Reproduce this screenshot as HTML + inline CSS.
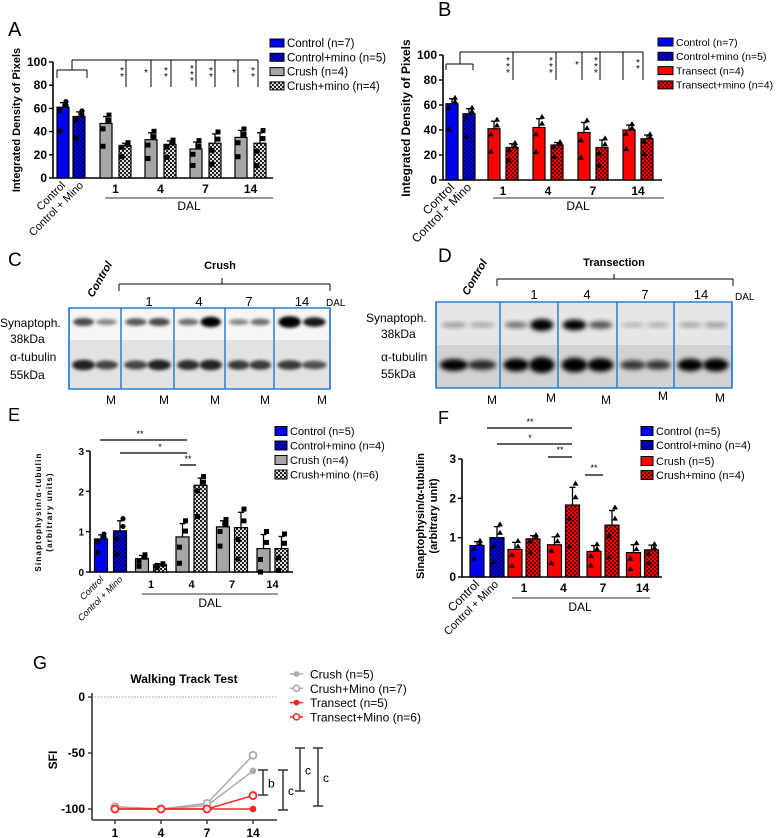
<!DOCTYPE html>
<html><head><meta charset="utf-8"><style>
html,body{margin:0;padding:0;background:#fff;}
svg{display:block;font-family:"Liberation Sans",sans-serif;}
</style></head><body>
<svg id="fig" width="777" height="838" viewBox="0 0 777 838" xmlns="http://www.w3.org/2000/svg">
<defs>
<pattern id="pBlue" width="4" height="4" patternUnits="userSpaceOnUse"><rect width="4" height="4" fill="#0000e0"/><rect width="2" height="2" fill="#00007a"/><rect x="2" y="2" width="2" height="2" fill="#00007a"/></pattern>
<pattern id="pGray" width="4" height="4" patternUnits="userSpaceOnUse"><rect width="4" height="4" fill="#ddd"/><rect width="2" height="2" fill="#222"/><rect x="2" y="2" width="2" height="2" fill="#222"/></pattern>
<pattern id="pRed" width="4" height="4" patternUnits="userSpaceOnUse"><rect width="4" height="4" fill="#f00"/><rect width="2" height="2" fill="#600"/><rect x="2" y="2" width="2" height="2" fill="#600"/></pattern>
<filter id="blur" x="-50%" y="-50%" width="200%" height="200%"><feGaussianBlur stdDeviation="1.6"/></filter>
<filter id="blur2" x="-50%" y="-50%" width="200%" height="200%"><feGaussianBlur stdDeviation="2.5"/></filter>
</defs>
<g id="root"></g>
</svg>
<script>
// ---- Panel A data ----
const daysLabels = ["1","4","7","14"];
const aCtrl = [61, 53];
const aCtrlErr = [4, 4];
const aCrush = [47, 33, 25, 35];
const aCrushErr = [6, 6, 6, 6];
const aCrushMino = [28, 29, 30, 30];
const aCrushMinoErr = [2, 3, 8, 9];
const aTicks = [0, 20, 40, 60, 80, 100];
// ---- Panel B data ----
const bCtrl = [61, 53];
const bCtrlErr = [4, 4];
const bTrans = [41, 42, 38, 40];
const bTransErr = [6, 7, 8, 4];
const bTransMino = [26, 28, 26, 33];
const bTransMinoErr = [3, 2, 6, 3];
// ---- Panel E data ----
const eCtrl = [0.82, 1.02];
const eCtrlErr = [0.1, 0.25];
const eCrush = [0.33, 0.87, 1.12, 0.58];
const eCrushErr = [0.08, 0.33, 0.15, 0.35];
const eCrushMino = [0.18, 2.15, 1.1, 0.58];
const eCrushMinoErr = [0.02, 0.18, 0.38, 0.3];
const eTicks = [0, 1, 2, 3];
// ---- Panel F data ----
const fCtrl = [0.8, 1.0];
const fCtrlErr = [0.1, 0.28];
const fCrush = [0.7, 0.82, 0.65, 0.62];
const fCrushErr = [0.18, 0.2, 0.15, 0.2];
const fCrushMino = [0.97, 1.83, 1.32, 0.69];
const fCrushMinoErr = [0.08, 0.45, 0.37, 0.12];
// ---- Panel G data ----
const gDays = ["1","4","7","14"];
const gCrush = [-98, -100, -97, -66];
const gCrushMino = [-98, -100, -95, -52];
const gTrans = [-100, -100, -100, -100];
const gTransMino = [-100, -100, -100, -88];
const gTicks = [0, -50, -100];

const NS = "http://www.w3.org/2000/svg";
const root = document.getElementById('root');
function el(tag, attrs, parent, txt){
  const e = document.createElementNS(NS, tag);
  for (const k in attrs) e.setAttribute(k, attrs[k]);
  if (txt !== undefined) e.textContent = txt;
  (parent || root).appendChild(e);
  return e;
}
function line(x1,y1,x2,y2,w,c,p){return el('line',{x1,y1,x2,y2,stroke:c||'#000','stroke-width':w||1},p);}

function barChart(cfg){
  const g = el('g',{});
  
  
  const ys = v => cfg.y0 - (v / cfg.max) * (cfg.y0 - cfg.yTop);
  line(cfg.ax, cfg.yTop, cfg.ax, cfg.y0, 1.6, '#000', g);
  line(cfg.ax, cfg.y0, cfg.xEnd, cfg.y0, 1.6, '#000', g);
  cfg.ticks.forEach(t => {
    line(cfg.ax-4, ys(t), cfg.ax, ys(t), 1.4, '#000', g);
    const tl = el('text',{x:cfg.ax-6,y:ys(t)+4,'text-anchor':'end','font-size':cfg.tickFs,'font-weight':'bold'},g,String(t));
    
    
  });
  const bars = [];
  bars.push({x:cfg.ctrlX[0], v:cfg.ctrl[0], e:cfg.ctrlErr[0], fill:'#0000f0'});
  bars.push({x:cfg.ctrlX[1], v:cfg.ctrl[1], e:cfg.ctrlErr[1], fill:'url(#pBlue)'});
  cfg.s1.forEach((v,i)=>bars.push({x:cfg.s1x0+cfg.step*i, v, e:cfg.s1Err[i], fill:cfg.s1Fill}));
  cfg.s2.forEach((v,i)=>bars.push({x:cfg.s2x0+cfg.step*i, v, e:cfg.s2Err[i], fill:cfg.s2Fill}));
  bars.forEach((b,i) => {
    line(b.x, ys(b.v), b.x, ys(b.v + b.e), 1.3, '#000', g);
    line(b.x-3, ys(b.v + b.e), b.x+3, ys(b.v + b.e), 1.3, '#000', g);
    const r = el('rect',{x:b.x-cfg.bw/2, y:ys(b.v), width:cfg.bw, height:cfg.y0-ys(b.v), fill:b.fill, stroke:'#000','stroke-width':1.2},g);
    
    
    const offs = [0.55, -0.35, 0.2, -0.6, 0.35];
    offs.slice(0, 4).forEach((o,k) => {
      const pv = Math.max(0, b.v + o * b.e * 2.2 - (k===3 ? b.v*0.25 : 0));
      const px = b.x + (k%2 ? -3 : 3);
      if (cfg.marker === 'tri') el('path',{d:`M${px},${ys(pv)-3} l3,5 h-6 z`,fill:'#000'},g);
      else if (cfg.marker === 'sq' && i>1) el('rect',{x:px-2.5,y:ys(pv)-2.5,width:5,height:5,fill:'#000'},g);
      else el('circle',{cx:px,cy:ys(pv),r:2.6,fill:'#000'},g);
    });
  });
  daysLabels.forEach((d,i) => {
    const cx = (cfg.s1x0 + cfg.s2x0)/2 + cfg.step*i;
    const t = el('text',{x:cx,y:cfg.y0+cfg.dayDy,'text-anchor':'middle','font-size':cfg.dayFs,'font-weight':'bold'},g,d);
    
    
  });
  return g;
}

barChart({name:'panel-a-chart',ax:53,y0:178,yTop:62,max:100,xEnd:273,ticks:aTicks,tickFs:12,bw:12,
  ctrlX:[63,79],ctrl:aCtrl,ctrlErr:aCtrlErr,s1:aCrush,s1Err:aCrushErr,s1x0:106,s2:aCrushMino,s2Err:aCrushMinoErr,s2x0:125,step:45,
  s1Fill:'#a6a6a6',s2Fill:'url(#pGray)',marker:'sq',dayDy:15,dayFs:12});
barChart({name:'panel-b-chart',ax:443,y0:180,yTop:55,max:100,xEnd:662,ticks:aTicks,tickFs:12,bw:12,
  ctrlX:[452,469],ctrl:bCtrl,ctrlErr:bCtrlErr,s1:bTrans,s1Err:bTransErr,s1x0:494,s2:bTransMino,s2Err:bTransMinoErr,s2x0:512,step:45,
  s1Fill:'#ff0000',s2Fill:'url(#pRed)',marker:'tri',dayDy:15,dayFs:12});
barChart({name:'panel-e-chart',ax:90,y0:572,yTop:451,max:3,xEnd:293,ticks:eTicks,tickFs:10,bw:13,
  ctrlX:[101,120],ctrl:eCtrl,ctrlErr:eCtrlErr,s1:eCrush,s1Err:eCrushErr,s1x0:142,s2:eCrushMino,s2Err:eCrushMinoErr,s2x0:160,step:40.5,
  s1Fill:'#a6a6a6',s2Fill:'url(#pGray)',marker:'sq',dayDy:16,dayFs:11});
barChart({name:'panel-f-chart',ax:462,y0:577,yTop:459,max:3,xEnd:662,ticks:eTicks,tickFs:12,bw:14,
  ctrlX:[477,497],ctrl:fCtrl,ctrlErr:fCtrlErr,s1:fCrush,s1Err:fCrushErr,s1x0:515,s2:fCrushMino,s2Err:fCrushMinoErr,s2x0:533,step:39.5,
  s1Fill:'#ff0000',s2Fill:'url(#pRed)',marker:'tri',dayDy:15,dayFs:12});

function txt(x,y,s,attrs,name){
  const a = Object.assign({x,y},attrs||{});
  const t = el('text',a,null,s);
  
  
  return t;
}
function legend(x,y,fill,label,fs,w,h,name){
  const r = el('rect',{x,y:y-h/2,width:w,height:h,fill,stroke:'#000','stroke-width':1});
  
  
  txt(x+w+3,y+fs*0.36,label,{'font-size':fs},name);
}
txt(8,36,'A',{'font-size':20},'panel-label-a');
txt(438,16,'B',{'font-size':20},'panel-label-b');
txt(8,266,'C',{'font-size':19},'panel-label-c');
txt(438,262,'D',{'font-size':19},'panel-label-d');
txt(8,421,'E',{'font-size':18},'panel-label-e');
txt(438,424,'F',{'font-size':18},'panel-label-f');
txt(33,669,'G',{'font-size':18},'panel-label-g');

[['#0000f0','Control (n=7)'],['url(#pBlue)','Control+mino (n=5)'],['#a6a6a6','Crush (n=4)'],['url(#pGray)','Crush+mino (n=4)']]
 .forEach((l,i)=>legend(270,43+14.3*i,l[0],l[1],11.5,14,8,'legend-a-entry'));
[['#0000f0','Control (n=7)'],['url(#pBlue)','Control+mino (n=5)'],['#ff0000','Transect (n=4)'],['url(#pRed)','Transect+mino (n=4)']]
 .forEach((l,i)=>legend(658,42+14.3*i,l[0],l[1],10.5,15,8,'legend-b-entry'));
[['#0000f0','Control (n=5)'],['url(#pBlue)','Control+mino (n=4)'],['#a6a6a6','Crush (n=4)'],['url(#pGray)','Crush+mino (n=6)']]
 .forEach((l,i)=>legend(275,431+14.5*i,l[0],l[1],11,12,9,'legend-e-entry'));
[['#0000f0','Control (n=5)'],['url(#pBlue)','Control+mino (n=4)'],['#ff0000','Crush (n=5)'],['url(#pRed)','Crush+mino (n=4)']]
 .forEach((l,i)=>legend(641,431+14*i+(i>1?2:0),l[0],l[1],11,12,9,'legend-f-entry'));

function ytitle(x,y,s,fs,name,extra){
  txt(0,0,s,Object.assign({'font-size':fs,'font-weight':'bold','text-anchor':'middle',transform:`translate(${x},${y}) rotate(-90)`},extra||{}),name);
}
ytitle(20,120,'Integrated Density of Pixels',11,'y-axis-title-a');
ytitle(410,118,'Integrated Density of Pixels',12,'y-axis-title-b');
ytitle(41,512,'Sinaptophysin/α-tubulin',8,'y-axis-title-e',{'letter-spacing':'1.2'});
ytitle(52,512,'(arbitrary units)',8,'y-axis-title-e2',{'letter-spacing':'1.2'});
ytitle(424,516,'Sinaptophysin/α-tubulin',11,'y-axis-title-f');
ytitle(437,516,'(arbitrary unit)',11,'y-axis-title-f2');

function rot(x,y,s,fs,name,italic){
  txt(0,0,s,{'font-size':fs,'text-anchor':'end','font-style':italic?'italic':'normal',transform:`translate(${x},${y}) rotate(-45)`},name);
}
rot(66,186,'Control',11,'x-label-control');rot(84,186,'Control + Mino',11,'x-label-control-mino');
rot(455,188,'Control',12,'x-label-control');rot(472,188,'Control + Mino',12,'x-label-control-mino');
rot(104,580,'Control',9,'x-label-control',true);rot(123,580,'Control + Mino',9,'x-label-control-mino',true);
rot(480,585,'Control',12,'x-label-control');rot(499,585,'Control + Mino',11,'x-label-control-mino');

[[105,273,198,189,210],[493,664,198,578,210],[142,278,594,210,607],[512,650,598,580,611]].forEach(d=>{
  line(d[0],d[2],d[1],d[2],1,'#333');
  txt(d[3],d[4],'DAL',{'font-size':12,'text-anchor':'middle'},'dal-label');
});

// Significance A
line(57,70,87,70,1);line(57,70,57,78,1);line(87,70,87,78,1);line(72,70,72,60,1);line(72,60,258,60,1);
[126,151,171,196,215,238,258].forEach(x=>line(x,60,x,87,1));
[[122,'**'],[146,'*'],[166,'**'],[192,'***'],[211,'**'],[234,'*'],[253,'**']].forEach(s=>{
  for(let k=0;k<s[1].length;k++) txt(s[0],76+k*6-(s[1].length-1)*2,'*',{'font-size':10,'text-anchor':'middle'},'significance-star');
});
// B
line(446,64,473,64,1);line(446,64,446,70,1);line(473,64,473,70,1);line(460,64,460,52,1);line(460,52,643,52,1);
[[513,80],[556,80],[582,80],[600,80],[623,80],[643,80]].forEach(d=>line(d[0],52,d[0],d[1],1));
[[508,'***'],[551,'***'],[577,'*'],[596,'***'],[638,'**']].forEach(s=>{
  for(let k=0;k<s[1].length;k++) txt(s[0],68+k*6-(s[1].length-1)*2,'*',{'font-size':10,'text-anchor':'middle'},'significance-star');
});
// E
line(100,440,187,440,1.3);txt(140,437,'**',{'font-size':9,'text-anchor':'middle'},'significance-star');
line(120,453,187,453,1.3);txt(160,450,'*',{'font-size':9,'text-anchor':'middle'},'significance-star');
line(180,465,196,465,1.3);txt(188,462,'**',{'font-size':9,'text-anchor':'middle'},'significance-star');
// F
line(487,428,572,428,1.3);txt(530,425,'**',{'font-size':9,'text-anchor':'middle'},'significance-star');
line(497,444,572,444,1.3);txt(530,441,'*',{'font-size':9,'text-anchor':'middle'},'significance-star');
line(548,457,572,457,1.3);txt(560,453,'**',{'font-size':9,'text-anchor':'middle'},'significance-star');
line(585,475,603,475,1.3);txt(594,471,'**',{'font-size':9,'text-anchor':'middle'},'significance-star');

// ---- Western blots ----
function blot(cfg){
  const g = el('g',{});
  
  
  el('rect',{x:cfg.b[0],y:cfg.top,width:cfg.b[cfg.b.length-1]-cfg.b[0],height:cfg.mid-cfg.top,fill:cfg.bg1},g);
  el('rect',{x:cfg.b[0],y:cfg.mid,width:cfg.b[cfg.b.length-1]-cfg.b[0],height:cfg.bot-cfg.mid,fill:cfg.bg2},g);
  for(let i=0;i<cfg.b.length-1;i++){
    const w = cfg.b[i+1]-cfg.b[i];
    [0.28,0.72].forEach((f,k)=>{
      const cx = cfg.b[i]+w*f;
      const s = cfg.syn[i*2+k], t = cfg.tub[i*2+k];
      el('ellipse',{cx,cy:cfg.synY,rx:w*0.2,ry:2+s*4,fill:'#000','fill-opacity':Math.min(1,0.2+s),filter:cfg.f},g);
      el('ellipse',{cx,cy:cfg.tubY,rx:w*0.22,ry:2.5+t*5,fill:'#000','fill-opacity':Math.min(1,0.3+t),filter:cfg.f},g);
    });
  }
  cfg.b.forEach(x=>line(x,cfg.top,x,cfg.bot,1.5,'#2a7fd4',g));
  el('rect',{x:cfg.b[0],y:cfg.top,width:cfg.b[cfg.b.length-1]-cfg.b[0],height:cfg.bot-cfg.top,fill:'none',stroke:'#2a7fd4','stroke-width':1.5},g);
}
blot({name:'blot-c',b:[69,121,174,225,274,330],top:308,mid:340,bot:389,bg1:'#f6f6f6',bg2:'#e2e2e2',synY:322,tubY:365,f:'url(#blur)',
  syn:[0.5,0.25,0.45,0.5,0.35,0.8,0.25,0.35,0.95,0.7],tub:[0.55,0.4,0.4,0.55,0.5,0.55,0.45,0.45,0.45,0.35]});
blot({name:'blot-d',b:[436,500,558,617,674,732],top:302,mid:345,bot:388,bg1:'#e6e6e6',bg2:'#d2d2d2',synY:325,tubY:365,f:'url(#blur2)',
  syn:[0.15,0.1,0.3,1.0,0.85,0.45,0.05,0.08,0.1,0.15],tub:[0.7,0.5,0.8,1.1,0.95,0.85,0.45,0.45,0.75,0.8]});
txt(0,327,'Synaptoph.',{'font-size':12},'blot-c-synaptophysin-label');
txt(10,343,'38kDa',{'font-size':12},'blot-c-38kda');
txt(10,361,'α-tubulin',{'font-size':12},'blot-c-tubulin-label');
txt(10,379,'55kDa',{'font-size':12},'blot-c-55kda');
txt(220,269,'Crush',{'font-size':11,'font-weight':'bold','text-anchor':'middle'},'crush-title');
line(119,284,330,284,1);line(119,284,119,291,1);line(330,284,330,291,1);line(222,284,222,278,1);
txt(0,0,'Control',{'font-size':11,'font-weight':'bold','font-style':'italic','text-anchor':'start',transform:'translate(93,298) rotate(-60)'},'blot-c-control-label');
[[149,'1'],[199,'4'],[249,'7'],[302,'14']].forEach(d=>txt(d[0],306,d[1],{'font-size':13,'text-anchor':'middle'},'blot-c-day'));
txt(326,306,'DAL',{'font-size':10},'blot-c-dal');
[111,164,215,265,322].forEach(x=>txt(x,404,'M',{'font-size':12,'text-anchor':'middle'},'blot-c-m-label'));
txt(366,322,'Synaptoph.',{'font-size':12},'blot-d-synaptophysin-label');
txt(381,338,'38kDa',{'font-size':12},'blot-d-38kda');
txt(381,361,'α-tubulin',{'font-size':12},'blot-d-tubulin-label');
txt(381,378,'55kDa',{'font-size':12},'blot-d-55kda');
txt(614,266,'Transection',{'font-size':11,'font-weight':'bold','text-anchor':'middle'},'transection-title');
line(497,279,733,279,1);line(497,279,497,286,1);line(733,279,733,286,1);line(614,279,614,274,1);
txt(0,0,'Control',{'font-size':11,'font-weight':'bold','font-style':'italic','text-anchor':'start',transform:'translate(468,296) rotate(-60)'},'blot-d-control-label');
[[534,'1'],[587,'4'],[645,'7'],[701,'14']].forEach(d=>txt(d[0],299,d[1],{'font-size':13,'text-anchor':'middle'},'blot-d-day'));
txt(735,300,'DAL',{'font-size':10},'blot-d-dal');
[492,551,606,663,720].forEach((x,i)=>txt(x,[404,402,404,400,402][i],'M',{'font-size':12,'text-anchor':'middle'},'blot-d-m-label'));

// ---- Panel G ----
(function(){
  const g = el('g',{});
  
  
  const ax=92, y0v=697, y100=809, xb=820;
  const ys = v => y0v + (v/-100)*(y100-y0v);
  const xs = i => 115 + i*46;
  line(ax,y0v-4,ax,xb,1.6,'#333',g); line(ax,xb,277,xb,1.6,'#333',g);
  el('line',{x1:ax,y1:ys(0),x2:277,y2:ys(0),stroke:'#777','stroke-width':0.8,'stroke-dasharray':'1.5,1.5'},g);
  gTicks.forEach(t=>{line(ax-4,ys(t),ax,ys(t),1.4,'#333',g);
    const l=el('text',{x:ax-7,y:ys(t)+4,'text-anchor':'end','font-size':12,'font-weight':'bold'},g,String(t));
     });
  gDays.forEach((d,i)=>{line(xs(i),xb,xs(i),xb+4,1.4,'#333',g);
    const l=el('text',{x:xs(i),y:xb+17,'text-anchor':'middle','font-size':12,'font-weight':'bold'},g,d);
     });
  const series=[[gCrush,'#aaa',false,'crush-line'],[gCrushMino,'#aaa',true,'crush-mino-line'],[gTrans,'#f22',false,'transect-line'],[gTransMino,'#f22',true,'transect-mino-line']];
  series.forEach(s=>{
    const pl=el('polyline',{points:s[0].map((v,i)=>xs(i)+','+ys(v)).join(' '),fill:'none',stroke:s[1],'stroke-width':1.5},g);
     
    s[0].forEach((v,i)=>el('circle',{cx:xs(i),cy:ys(v),r:s[2]?3.5:2.8,fill:s[2]?'#fff':s[1],stroke:s[1],'stroke-width':s[2]?1.8:1},g));
  });
  const t=el('text',{x:184,y:683,'text-anchor':'middle','font-size':12,'font-weight':'bold'},g,'Walking Track Test');
   
  ytitle(57,760,'SFI',12,'y-axis-title-g');
  series.forEach((s,i)=>{
    const ly=674+14.3*i;
    line(290,ly,303,ly,1.5,s[1],g);
    el('circle',{cx:296.5,cy:ly,r:s[2]?3:2.4,fill:s[2]?'#fff':s[1],stroke:s[1],'stroke-width':s[2]?1.5:1},g);
    const lt=el('text',{x:310,y:ly+4.5,'font-size':12},g,['Crush (n=5)','Crush+Mino (n=7)','Transect (n=5)','Transect+Mino (n=6)'][i]);
     
  });
  [[263,770,795,'b'],[283,770,810,'c'],[300,748,791,'c'],[318,748,806,'c']].forEach(b=>{
    line(b[0],b[1],b[0],b[2],1.5,'#333',g);line(b[0]-5,b[1],b[0]+5,b[1],1.5,'#333',g);line(b[0]-5,b[2],b[0]+5,b[2],1.5,'#333',g);
    const l=el('text',{x:b[0]+5,y:(b[1]+b[2])/2+5,'font-size':12},g,b[3]);
     
  });
})();
</script>
</body></html>
